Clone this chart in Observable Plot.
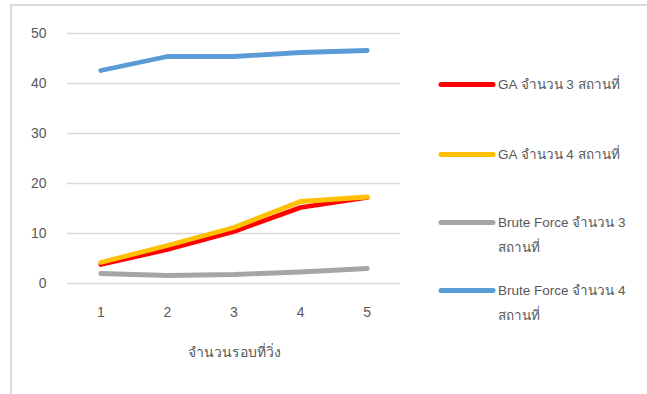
<!DOCTYPE html>
<html>
<head>
<meta charset="utf-8">
<script src="https://cdn.jsdelivr.net/npm/d3@7"></script>
<script src="https://cdn.jsdelivr.net/npm/@observablehq/plot@0.6"></script>
<style>
  html, body { margin: 0; padding: 0; background: #fff; }
  #wrap { position: relative; width: 647px; height: 394px; overflow: hidden;
          font-family: "Liberation Sans", Arial, "DejaVu Sans", sans-serif; }
  #frame { position: absolute; left: 10px; top: 4px; width: 640px; height: 400px;
           border-left: 2px solid #d9d9d9; border-top: 2px solid #d9d9d9; box-sizing: border-box; }
  #legend { position: absolute; left: 438px; top: 0; width: 209px; }
  .item { position: absolute; left: 0; display: flex; align-items: flex-start; }
  .item svg { flex: none; }
  .item span { font-size: 13.5px; color: #595959; line-height: 25px; margin-left: 2px; width: 150px; }
</style>
</head>
<body>
<div id="wrap"><div id="frame"></div><div id="legend"></div></div>
<script>
// Rounds run (x) and the time for each method (y)
const rounds = [1, 2, 3, 4, 5];
const seriesNames = [
  "GA จำนวน 3 สถานที่",
  "GA จำนวน 4 สถานที่",
  "Brute Force จำนวน 3 สถานที่",
  "Brute Force จำนวน 4 สถานที่"
];
const seriesColors = ["#ff0000", "#ffc000", "#a5a5a5", "#5b9bd5"];
const ga3 = [3.8, 6.8, 10.4, 15.2, 17.2];
const ga4 = [4.2, 7.6, 11.2, 16.4, 17.3];
const bf3 = [2.0, 1.6, 1.8, 2.3, 3.0];
const bf4 = [42.6, 45.4, 45.4, 46.2, 46.6];
const yTicks = [0, 10, 20, 30, 40, 50];
const xTitle = "จำนวนรอบที่วิ่ง";

const values = [ga3, ga4, bf3, bf4];
const rows = values.flatMap((vals, i) =>
  vals.map((v, j) => ({series: seriesNames[i], round: rounds[j], value: v})));

// Draw order: blue and gray first, then red, then yellow on top
const drawOrder = [3, 2, 0, 1];

const chart = Plot.plot({
  width: 647,
  height: 394,
  marginLeft: 67,
  marginRight: 247,
  marginTop: 33,
  marginBottom: 111,
  style: {fontFamily: '"Liberation Sans", Arial, sans-serif', fontSize: "14px", color: "#595959", background: "transparent"},
  x: {domain: [0.5, 5.5]},
  y: {domain: [0, 50]},
  color: {domain: seriesNames, range: seriesColors},
  marks: [
    Plot.ruleY(yTicks, {stroke: "#d9d9d9", strokeWidth: 1.5}),
    Plot.axisY({ticks: yTicks, tickSize: 0, tickPadding: 21, label: null, fontSize: 14}),
    Plot.axisX({ticks: rounds, tickSize: 0, tickPadding: 24, tickFormat: d => d, fontSize: 14,
                label: xTitle, labelAnchor: "center", labelArrow: "none", labelOffset: 73}),
    ...drawOrder.map(i => Plot.lineY(rows.filter(d => d.series === seriesNames[i]), {
      x: "round", y: "value", stroke: "series", strokeWidth: 4.8,
      strokeLinecap: "round", strokeLinejoin: "round"
    }))
  ]
});
chart.style.position = "absolute";
chart.style.left = "0";
chart.style.top = "0";
document.getElementById("wrap").appendChild(chart);

// Legend: one swatch and label per series
const legendTops = [72, 142, 210, 278];
const legend = d3.select("#legend");
seriesNames.forEach((name, i) => {
  const item = legend.append("div").attr("class", "item").style("top", legendTops[i] + "px");
  const sw = item.append("svg").attr("width", 58).attr("height", 25);
  sw.append("line").attr("x1", 3).attr("x2", 55).attr("y1", 12.5).attr("y2", 12.5)
    .attr("stroke", seriesColors[i]).attr("stroke-width", 5).attr("stroke-linecap", "round");
  item.append("span").text(name);
});
</script>
</body>
</html>
